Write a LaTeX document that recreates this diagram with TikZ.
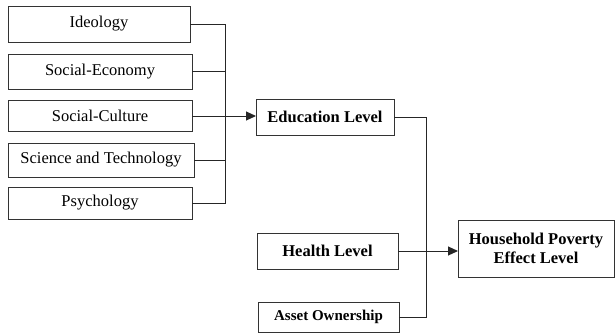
\documentclass[tikz,border=0pt]{standalone}
\usepackage{fontspec}
\setmainfont{Liberation Serif}
\usetikzlibrary{arrows.meta}
\begin{document}
\begin{tikzpicture}[x=1pt,y=-1pt,
  box/.style={draw=black!80,line width=1pt,inner sep=0pt,outer sep=0pt,font=\fontsize{16.5}{18}\selectfont,align=center},
  bbox/.style={box,font=\fontsize{16.5}{18}\selectfont\bfseries},
  conn/.style={draw=black!85,line width=1pt},
  arr/.style={conn,-{Triangle[length=10pt,width=9pt]}}]
\useasboundingbox (0,0) rectangle (615,333);
\node[box,minimum width=182,minimum height=36] (ideo) at (99,24) {Ideology};
\node[box,minimum width=184,minimum height=35] (econ) at (100,71.5) {Social-Economy};
\node[box,minimum width=184,minimum height=31] (cult) at (100,116) {Social-Culture};
\node[box,minimum width=186,minimum height=34] (sci) at (101,160) {Science and Technology};
\node[box,minimum width=184,minimum height=32] (psy) at (100,203) {Psychology};
\node[bbox,minimum width=138,minimum height=36] (edu) at (325,117) {Education Level};
\node[bbox,minimum width=141,minimum height=36] (health) at (327.5,251) {Health Level};
\node[box,font=\fontsize{15}{17}\selectfont\bfseries,minimum width=141,minimum height=30] (asset) at (328.5,317) {Asset Ownership};
\node[bbox,minimum width=156,minimum height=57,font=\fontsize{16.5}{19.5}\selectfont\bfseries] (house) at (536,248.5) {Household Poverty\\Effect Level};
\coordinate (b1) at (225,24);
\coordinate (b5) at (225,203);
\coordinate (r1) at (426,117);
\coordinate (r2) at (426,317);
\draw[conn] (ideo.east) -- (b1) -- (b5) -- (psy.east);
\draw[conn] (econ.east) -- (econ.east -| b1);
\draw[conn] (sci.east) -- (sci.east -| b1);
\draw[arr] (cult.east) -- (cult.east -| edu.west);
\draw[conn] (edu.east) -- (r1) -- (r2) -- (asset.east);
\draw[arr] (health.east) -- (health.east -| house.west);
\end{tikzpicture}
\end{document}
